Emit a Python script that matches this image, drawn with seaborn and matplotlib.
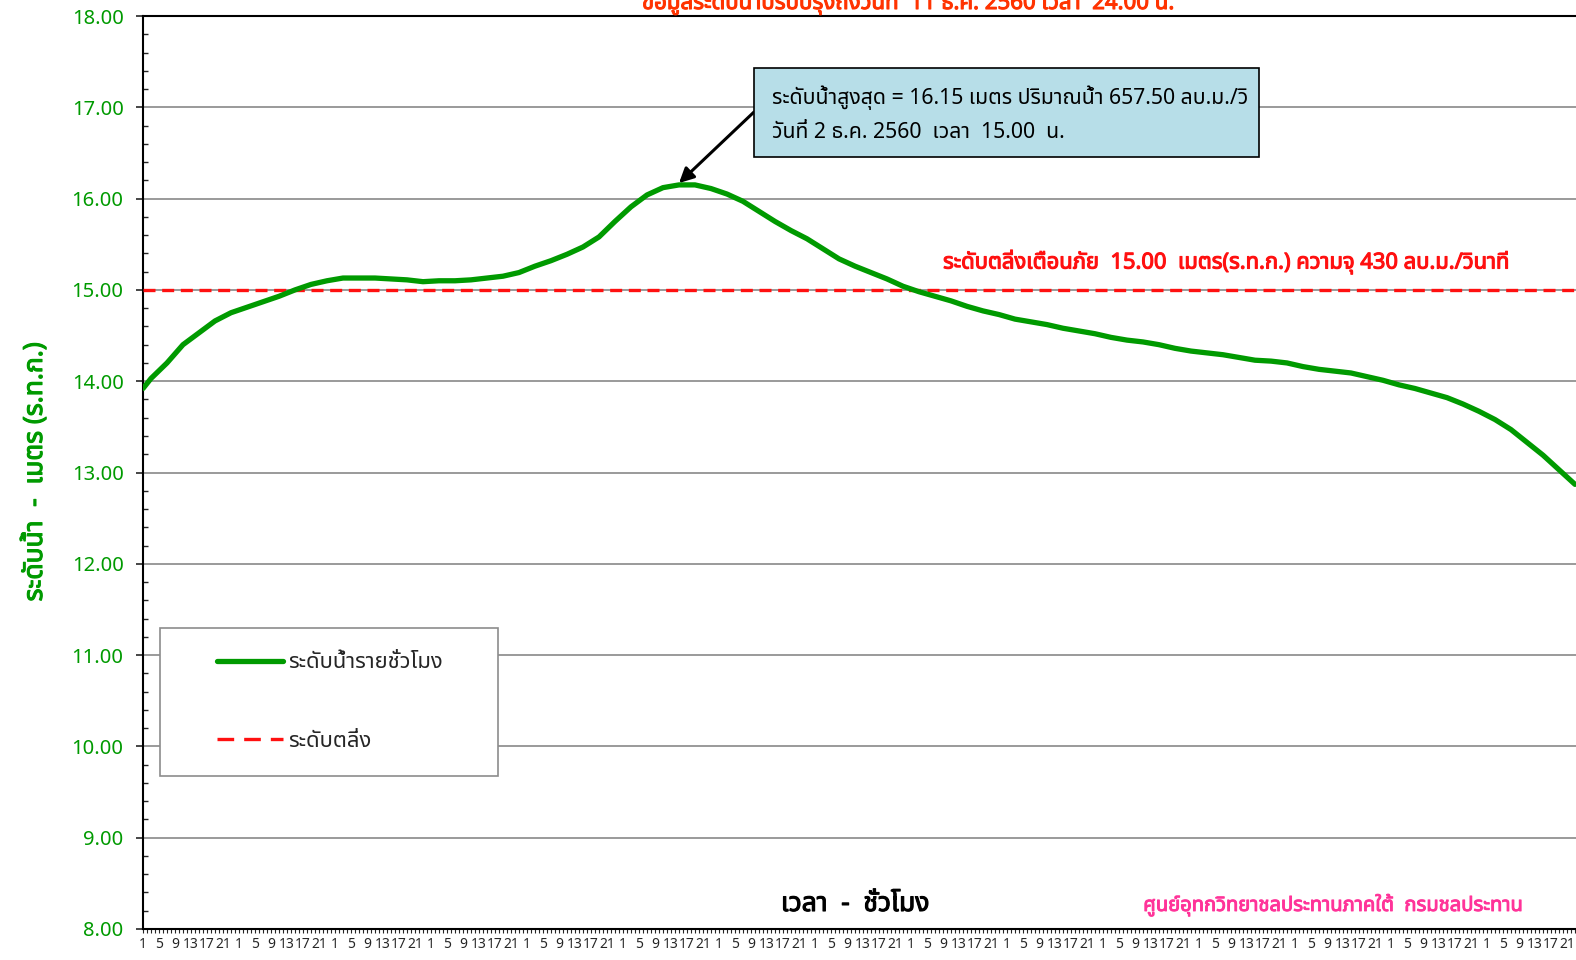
import matplotlib
matplotlib.use('Agg')
import matplotlib.pyplot as plt
import matplotlib.font_manager as fm
import matplotlib.patheffects as pe
from matplotlib.ft2font import FT2Font
from matplotlib.patches import Rectangle
from matplotlib.ticker import MultipleLocator, FixedLocator, FixedFormatter
import seaborn as sns
import pandas as pd

# hours counted from 01:00 of 27 Nov 2560
hours = [0] + list(range(2, 359, 4))
levels = [
    13.92, 14.03, 14.20, 14.40, 14.53, 14.66, 14.75, 14.81, 14.87, 14.93,
    15.00, 15.06, 15.10, 15.13, 15.13, 15.13, 15.12, 15.11, 15.09, 15.10,
    15.10, 15.11, 15.13, 15.15, 15.19, 15.26, 15.32, 15.39, 15.47, 15.58,
    15.75, 15.91, 16.04, 16.12, 16.15, 16.15, 16.11, 16.05, 15.97, 15.86,
    15.75, 15.65, 15.56, 15.45, 15.34, 15.26, 15.19, 15.12, 15.04, 14.98,
    14.93, 14.88, 14.82, 14.77, 14.73, 14.68, 14.65, 14.62, 14.58, 14.55,
    14.52, 14.48, 14.45, 14.43, 14.40, 14.36, 14.33, 14.31, 14.29, 14.26,
    14.23, 14.22, 14.20, 14.16, 14.13, 14.11, 14.09, 14.05, 14.01, 13.96,
    13.92, 13.87, 13.82, 13.75, 13.67, 13.58, 13.47, 13.33, 13.19, 13.03,
    12.87,
]
bank_level = 15.00
peak_hour = 134
peak_level = 16.15

n_hours = 360
tick_hours = list(range(0, n_hours, 4))
tick_labels = [str(h % 24 + 1) for h in tick_hours]

title_text = 'ข้อมูลระดับน้ำปรับปรุงถึงวันที่  11 ธ.ค. 2560 เวลา  24.00 น.'
ylabel_text = 'ระดับน้ำ  -  เมตร (ร.ท.ก.)'
xlabel_text = 'เวลา  -  ชั่วโมง'
bank_text = 'ระดับตลิ่งเตือนภัย  15.00  เมตร(ร.ท.ก.) ความจุ 430 ลบ.ม./วินาที'
peak_text = 'ระดับน้ำสูงสุด = 16.15 เมตร ปริมาณน้ำ 657.50 ลบ.ม./วิ\nวันที่ 2 ธ.ค. 2560  เวลา  15.00  น.'
credit_text = 'ศูนย์อุทกวิทยาชลประทานภาคใต้  กรมชลประทาน'
legend_labels = ['ระดับน้ำรายชั่วโมง', 'ระดับตลิ่ง']

GREEN = '#009A00'
RED = '#FF1010'


def find_thai_family():
    preferred = ['Noto Sans Thai', 'Noto Sans Thai UI', 'Noto Sans Thai Looped',
                 'Loma', 'Garuda', 'Tlwg Typo', 'Sarabun', 'Waree', 'Umpush',
                 'Kinnari', 'Norasi', 'Laksaman', 'Noto Serif Thai']
    found = {}
    for f in fm.fontManager.ttflist:
        try:
            if 0x0E14 in FT2Font(f.fname).get_charmap():
                found.setdefault(f.name, f.fname)
        except Exception:
            pass
    for name in preferred:
        if name in found:
            return name
    return next(iter(found), None)


def bold(color, w=0.8):
    # thicken the glyphs, the Thai face may have no bold weight
    return [pe.withStroke(linewidth=w, foreground=color)]


sns.set_style('white')
thai = find_thai_family()
families = ['DejaVu Sans']
if thai:
    families = [thai, 'DejaVu Sans']
plt.rcParams['font.family'] = families

df = pd.DataFrame({'hour': hours, 'level': levels})

fig = plt.figure(figsize=(15.76, 9.6), dpi=100)
W, H = 1576.0, 960.0
# plot area: x=143..1579 px (4 px per hour), y=16..929 px
ax = fig.add_axes([143 / W, 31 / H, 1436 / W, 913 / H])

ax.yaxis.grid(True, color='#9a9a9a', linewidth=1.4, zorder=0)
ax.xaxis.grid(False)

sns.lineplot(data=df, x='hour', y='level', ax=ax, color=GREEN,
             linewidth=3.8, label=legend_labels[0], zorder=4)
ax.axhline(bank_level, color=RED, linewidth=2.4, dashes=(3.6, 2.0),
           label=legend_labels[1], zorder=3)

ax.set_xlim(0, n_hours - 1)
ax.set_ylim(8, 18)

# axes ticks
ax.yaxis.set_major_locator(MultipleLocator(1.0))
ax.yaxis.set_minor_locator(MultipleLocator(0.2))
ax.yaxis.set_major_formatter(plt.FuncFormatter(lambda v, p: '%.2f' % v))
ax.tick_params(axis='y', which='major', direction='out', length=5, width=1.2,
               labelsize=14.5, labelcolor=GREEN, pad=9, left=True)
ax.tick_params(axis='y', which='minor', direction='in', length=3.5, width=1.0,
               left=True)
ax.xaxis.set_major_locator(FixedLocator(tick_hours))
ax.xaxis.set_major_formatter(FixedFormatter(tick_labels))
ax.xaxis.set_minor_locator(MultipleLocator(1))
ax.tick_params(axis='x', which='both', direction='out', length=3, width=0.8,
               labelsize=10, pad=3, bottom=True)

for side in ['left', 'bottom', 'top']:
    ax.spines[side].set_color('black')
    ax.spines[side].set_linewidth(1.5)
ax.spines['right'].set_visible(False)
ax.set_xlabel('')
ax.set_ylabel('')

# legend inside its own frame
ax.get_legend().remove()
ax.add_patch(Rectangle((160 / W, 1 - 776 / H), 338 / W, 148 / H,
                       transform=fig.transFigure, facecolor='white',
                       edgecolor='#8c8c8c', linewidth=1.2, zorder=5))
leg = ax.legend(loc='center', bbox_to_anchor=(330 / W, 1 - 702 / H),
                bbox_transform=fig.transFigure, frameon=False, fontsize=15.8,
                handlelength=3.0, handletextpad=0.25, labelspacing=2.6)
leg.set_zorder(6)
leg.get_lines()[1].set_dashes((5.0, 3.0))

# peak annotation box and arrow
fig.patches.append(Rectangle((754 / W, 1 - 157 / H), 505 / W, 89 / H,
                             transform=fig.transFigure, facecolor='#b7dee8',
                             edgecolor='black', linewidth=1.2, zorder=5))
fig.text(772 / W, 1 - 114 / H, peak_text, fontsize=15.3, color='black',
         va='center', ha='left', linespacing=1.75, zorder=6)
ax.annotate('', xy=(peak_hour, peak_level + 0.02), xycoords='data',
            xytext=(754 / W, 1 - 112 / H), textcoords='figure fraction',
            arrowprops=dict(arrowstyle='-|>', color='black', lw=2.2,
                            mutation_scale=22, shrinkA=0, shrinkB=0),
            zorder=6)

# bank level label
fig.text(1227 / W, 1 - 262 / H, bank_text, fontsize=15.8, color=RED,
         ha='center', va='center', path_effects=bold(RED))

# title (cut at the top edge like the reference)
fig.text(908 / W, 1 - 9 / H, title_text, fontsize=16, color='#FF3300',
         ha='center', va='baseline', path_effects=bold('#FF3300'))

# axis titles and credit
fig.text(35 / W, 1 - 472 / H, ylabel_text, rotation=90, fontsize=19,
         color=GREEN, ha='center', va='center', path_effects=bold(GREEN))
fig.text(855 / W, 1 - 904 / H, xlabel_text, fontsize=19, color='black',
         ha='center', va='center', path_effects=bold('black'))
fig.text(1333 / W, 1 - 905 / H, credit_text, fontsize=14.5, color='#FF3399',
         ha='center', va='center', path_effects=bold('#FF3399', 0.7))

fig.savefig('out.png', dpi=100, facecolor='white')
